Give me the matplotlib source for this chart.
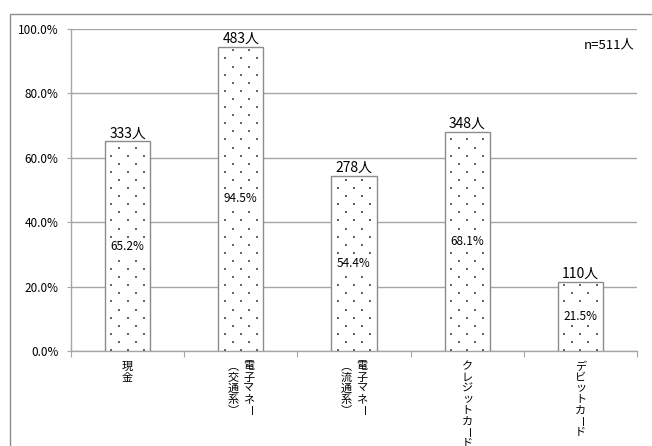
import numpy as np
import matplotlib
matplotlib.use("Agg")
import matplotlib.pyplot as plt
from matplotlib.patches import Rectangle

plt.rcParams['font.family'] = ['Noto Sans CJK JP', 'DejaVu Sans']

# Payment methods used (multiple answers), n = 511
categories = [["現金"],
              ["電子マネー", "︵交通系︶"],
              ["電子マネー", "︵流通系︶"],
              ["クレジットカード"],
              ["デビットカード"]]
counts = [333, 483, 278, 348, 110]
shares = [65.2, 94.5, 54.4, 68.1, 21.5]
sample_label = "n=511人"
yticks = [0, 20, 40, 60, 80, 100]

W, H, DPI = 652, 446, 100
fig = plt.figure(figsize=(W / DPI, H / DPI), dpi=DPI)
ax = fig.add_axes([71 / W, 1 - 351 / H, (637 - 71) / W, (351 - 29) / H])

GRID = "#a6a6a6"
EDGE = "#8c8c8c"

# Outer chart frame (continues past the right and bottom edges)
fig.add_artist(Rectangle((10 / W, -0.2), 1.2, (1 - 14 / H) + 0.2,
                         transform=fig.transFigure, fill=False,
                         edgecolor=EDGE, linewidth=1.0))

x = np.arange(len(shares))
ax.set_xlim(-0.5, len(shares) - 0.5)
ax.set_ylim(0, 100)

bars = ax.bar(x, shares, width=0.4, color="white", edgecolor=EDGE,
              linewidth=1.0, zorder=3)

# Dotted texture inside each bar
inv = ax.transData.inverted()
for b in bars:
    (x0, y0), (x1, y1) = ax.transData.transform([(b.get_x(), 0),
                                                 (b.get_x() + b.get_width(), b.get_height())])
    pts = []
    for r, py in enumerate(np.arange(y0 + 1, y1, 8.1)):
        start = x0 + (6.5 if r % 2 == 0 else 14.5)
        for px in np.arange(start, x1 - 1, 16.2):
            pts.append((px, py))
    if pts:
        d = inv.transform(np.array(pts))
        sc = ax.scatter(d[:, 0], d[:, 1], s=1.3, marker="s", color="#666666",
                        linewidths=0, zorder=4)
        sc.set_clip_path(b)

# Value labels
for xi, c, s in zip(x, counts, shares):
    ax.annotate(f"{c}人", (xi, s), xytext=(0, 0.5), textcoords="offset points",
                ha="center", va="bottom", fontsize=10, zorder=5)
    ax.text(xi, s / 2, f"{s:.1f}%", ha="center", va="center", fontsize=8.5,
            zorder=5, bbox=dict(boxstyle="square,pad=0.15", fc="white", ec="none"))

ax.text(0.995, 0.95, sample_label, transform=ax.transAxes, ha="right",
        va="center", fontsize=9.5)

# Axes styling
ax.set_yticks(yticks)
ax.set_yticklabels([f"{v:.1f}%" for v in yticks], fontsize=8.5)
ax.yaxis.grid(True, color=GRID, linewidth=1.0, zorder=0)
ax.set_axisbelow(True)
for side in ("top", "right"):
    ax.spines[side].set_visible(False)
for side in ("left", "bottom"):
    ax.spines[side].set_color(GRID)
    ax.spines[side].set_linewidth(1.0)
ax.tick_params(axis="y", length=3, color=GRID, pad=6)
ax.set_xticks(np.arange(-0.5, len(shares), 1.0))
ax.set_xticklabels([])
ax.tick_params(axis="x", length=4, color=GRID)

# Vertical (tategaki) category labels: first column on the right
ROT = {"ー": -90}
step = 11.0      # pixels per character
col_gap = 16.0   # pixels between columns
for xi, cols in zip(x, categories):
    n = len(cols)
    for ci, col in enumerate(cols):
        dx = ((n - 1) / 2 - ci) * col_gap
        for k, ch in enumerate(col):
            ax.annotate(ch, (xi, 0), xycoords=("data", "axes fraction"),
                        xytext=(dx, -15.5 - k * step),
                        textcoords="offset pixels", ha="center", va="center",
                        fontsize=8, rotation=ROT.get(ch, 0), annotation_clip=False)

fig.savefig("out.png", dpi=DPI)
